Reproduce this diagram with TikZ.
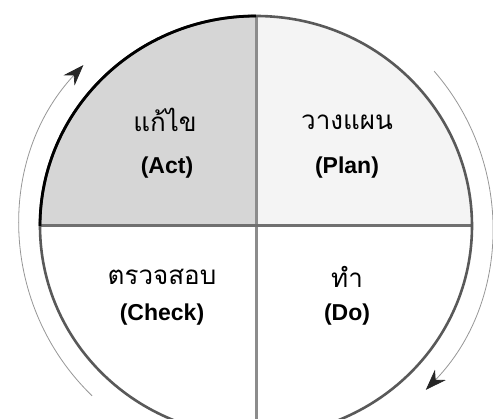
\documentclass[tikz,border=0pt]{standalone}
\usepackage{fontspec}
\setmainfont{Liberation Sans}
\newfontfamily\thaifont[Script=Thai]{Loma}
\usetikzlibrary{arrows.meta}
\definecolor{actFill}{RGB}{214, 214, 214}
\definecolor{planFill}{RGB}{244, 244, 244}
\definecolor{divLine}{RGB}{140, 140, 140}
\definecolor{cycleLine}{RGB}{150, 150, 150}

\begin{document}
\begin{tikzpicture}[x=1pt, y=1pt,
    thai/.style={font=\thaifont\fontsize{26}{30}\selectfont, inner sep=0pt},
    eng/.style={font=\bfseries\fontsize{23}{27}\selectfont, inner sep=0pt},
    cycle/.style={cycleLine, line width=0.8pt, -{Stealth[length=21pt, width=15pt, color=black!85]}}]
  \useasboundingbox (0, 0) rectangle (493, 419);

  % Quadrant fills
  \begin{scope}
    \clip (256, 193) ellipse [x radius=216, y radius=210];
    \fill[actFill]  (40, 193)  rectangle (256, 420);
    \fill[planFill] (256, 193) rectangle (472, 420);
  \end{scope}

  % Dividers
  \draw[divLine, line width=3pt] (256, 403) -- (256, -20);
  \draw[divLine!80!black, line width=3pt] (40, 193) -- (472, 193);

  % Outer circle
  \draw[black!65, line width=2.6pt] (256, 193) ellipse [x radius=216, y radius=210];
  \draw[black, line width=2.8pt] (40, 193) arc [start angle=180, end angle=90, x radius=216, y radius=210];

  % Labels
  \node[thai] (actTh)   at (165, 299) {แก้ไข};
  \node[eng]  (actEn)   at (167, 251) {(Act)};
  \node[thai] (planTh)  at (347, 297) {วางแผน};
  \node[eng]  (planEn)  at (347, 251) {(Plan)};
  \node[thai] (checkTh) at (162, 142) {ตรวจสอบ};
  \node[eng]  (checkEn) at (162, 104) {(Check)};
  \node[thai] (doTh)    at (347, 142) {ทำ};
  \node[eng]  (doEn)    at (347, 104) {(Do)};

  % Cycle arrows
  \coordinate (ctr) at (256, 193);
  \draw[cycle] ([shift={(226:236)}]ctr) arc [start angle=226, end angle=137, radius=236];
  \draw[cycle] ([shift={(41:236)}]ctr) arc [start angle=41, end angle=-44, radius=236];
\end{tikzpicture}
\end{document}
